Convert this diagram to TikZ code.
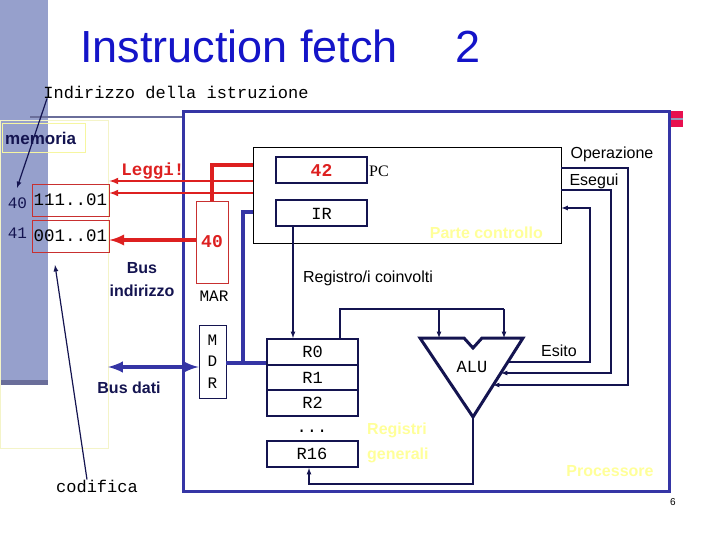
\documentclass[tikz,border=0pt]{standalone}
\usepackage{fontspec}
\setmainfont{Liberation Sans}
\setmonofont{Liberation Mono}
\newfontfamily\serifface{Liberation Serif}
\usepackage{tikz}
\usetikzlibrary{arrows}

\definecolor{navy}{HTML}{141450}
\definecolor{busblue}{HTML}{3535A5}
\definecolor{titleblue}{HTML}{1414C8}
\definecolor{barblue}{HTML}{96A0CC}
\definecolor{bardark}{HTML}{6A6E9A}
\definecolor{accred}{HTML}{DD2020}
\definecolor{cellred}{HTML}{C83030}
\definecolor{paleyel}{HTML}{FFFF99}
\definecolor{faintyel}{HTML}{F4F4C8}
\definecolor{markred}{HTML}{E8104F}

\newcommand\fsz[1]{\fontsize{#1}{#1}\selectfont}

\tikzset{
  reg/.style={draw=navy, line width=2pt, minimum width=91pt, minimum height=26pt, inner sep=0pt, font=\ttfamily\fsz{17}},
  cell/.style={draw=cellred, line width=0.8pt, minimum width=77pt, minimum height=32pt, inner sep=0pt, font=\ttfamily\fsz{17.5}},
  mono/.style={inner sep=0pt, font=\ttfamily\fsz{17}},
  lbl/.style={inner sep=0pt, font=\fsz{16}},
  tag/.style={inner sep=0pt, text=paleyel, font=\bfseries\fsz{16}},
  wire/.style={navy, line width=1.2pt},
  redline/.style={accred, line width=2pt},
  redthick/.style={accred, line width=4pt},
  busline/.style={busblue, line width=4pt}
}

\begin{document}
\begin{tikzpicture}[x=1pt,y=-1pt]
      \useasboundingbox (0,0) rectangle (720,540);
      % slide background
      \fill[barblue] (0,0) rectangle (48,385);
      \fill[bardark] (0,380) rectangle (48,385);
      \draw[bardark, line width=2pt] (30,117) -- (183,117);
      \fill[markred] (670,111) rectangle (683,127);
      \draw[bardark!70, line width=2pt] (670,119) -- (683,119);
      \node[titleblue, anchor=base west, inner sep=0pt, font=\fsz{45}] (title) at (80,63) {Instruction fetch};
      \node[titleblue, anchor=base west, inner sep=0pt, font=\fsz{45}] (titlenum) at (455,63) {2};
      \node[inner sep=0pt, font=\fsz{10}] (pagenum) at (673,502) {6};

      % memoria
      \draw[faintyel] (0,120) rectangle (108,448);
      \draw[faintyel!80!yellow] (2,123) rectangle (85,152);
      \node[navy, anchor=west, inner sep=0pt, font=\bfseries\fsz{17}] (memlbl) at (5,138) {memoria};
      \node[cell] (c40) at (70.5,200) {111..01};
      \node[cell] (c41) at (70.5,236) {001..01};
      \node[mono, navy, font=\ttfamily\fsz{16}] (a40) at (17.5,203) {40};
      \node[mono, navy, font=\ttfamily\fsz{16}] (a41) at (17.5,233) {41};
      \node[mono] (indtext) at (176,92) {Indirizzo della istruzione};
      \node[mono] (codifica) at (97,486) {codifica};
      \coordinate (addrtip) at (17,188);
      \coordinate (codtip) at (55,265);
      \draw[wire,-latex] (indtext.south -| 47,0) -- (addrtip);
      \draw[wire,-latex] (codifica.north -| 87,0) -- (codtip);

      % processore
      \draw[busblue, line width=3pt] (183,112) rectangle (669,491);
      \node[draw=black, line width=0.8pt, minimum width=308pt, minimum height=96pt, inner sep=0pt] (ctrl) at (407,195) {};
      \node[reg, font=\ttfamily\bfseries\fsz{18}, text=accred] (pc) at (321.5,170.5) {42};
      \node[reg] (ir) at (321.5,213.5) {IR};
      \node[anchor=west, inner sep=0pt, font=\serifface\fsz{16}] (pclbl) at (369,171) {PC};
      \node[tag, anchor=east] (ctrltag) at (543,233) {Parte controllo};
      \node[lbl] (oplbl) at (612,154) {Operazione};
      \node[lbl] (eslbl) at (594,181) {Esegui};

      \node[draw=cellred, line width=0.8pt, minimum width=32pt, minimum height=82pt, inner sep=0pt, text=accred, font=\ttfamily\bfseries\fsz{18}] (mar) at (212,242) {40};
      \node[mono, font=\ttfamily\fsz{16}] (marlbl) at (214,296) {MAR};
      \node[draw=navy, line width=0.8pt, minimum width=27pt, minimum height=73pt, inner sep=0pt, align=center, font=\ttfamily\fontsize{16}{21.5}\selectfont] (mdr) at (212.5,361.5) {M\\D\\R};
      \node[navy, align=center, inner sep=0pt, font=\bfseries\fontsize{16}{23}\selectfont] (busind) at (142,280) {Bus\\indirizzo};
      \node[navy, inner sep=0pt, font=\bfseries\fsz{16}] (busdati) at (129,388) {Bus dati};
      \node[redline, text=accred, inner sep=0pt, font=\ttfamily\bfseries\fsz{17.5}] (leggi) at (153,171) {Leggi!};

      % registri generali
      \node[reg] (r0) at (312.5,352) {R0};
      \node[reg, minimum height=25pt] (r1) at (312.5,377.5) {R1};
      \node[reg] (r2) at (312.5,403) {R2};
      \node[mono, anchor=base] (dots) at (312,432) {...};
      \node[reg] (r16) at (312,454) {R16};
      \node[tag, align=left, anchor=west, font=\bfseries\fontsize{16}{25}\selectfont] (regtag) at (367,443) {Registri\\generali};
      \node[lbl] (coinv) at (368,278) {Registro/i coinvolti};
      \node[lbl] (esito) at (559,351) {Esito};
      \node[tag] (proctag) at (610,471) {Processore};

      % ALU
      \draw[navy, line width=3pt, line join=miter] (420,338) -- (464,338) -- (473,348) -- (482,338) -- (523,338) -- (473,417) -- cycle;
      \node[mono] (alu) at (472,367) {ALU};
      \coordinate (aluA) at (439,338);
      \coordinate (aluB) at (504,338);
      \coordinate (aluop) at (493,385);
      \coordinate (aluex) at (501,373);
      \coordinate (aluout) at (508,362);
      \coordinate (alubot) at (473,417);

      % bus indirizzo / lettura
      \draw[redthick] (ctrl.west |- 0,165) -| (mar.north);
      \draw[redline,-latex] (ctrl.west |- 0,181) -- (c40.east |- 0,181);
      \draw[redline,-latex] (ctrl.west |- 0,193) -- (c40.east |- 0,193);
      \draw[redthick,-latex] (mar.west |- 0,240) -- (c41.east |- 0,240);

      % bus dati
      \coordinate (memedge) at (108,367);
      \draw[busline,latex-latex] (memedge) -- (mdr.west |- memedge);
      \draw[busline] (ctrl.west |- 0,212) -- (243,212) -- (243,363);
      \draw[busline] (mdr.east |- 0,363) -- (r0.west |- 0,363);

      % collegamenti
      \draw[wire,-latex] (ir.south -| 293,0) -- (r0.north -| 293,0);
      \draw[wire] (r0.north -| 340,0) -- (340,309) -- (504,309);
      \draw[wire,-latex] (439,309) -- (aluA);
      \draw[wire,-latex] (504,309) -- (aluB);
      \draw[wire,-latex] (alubot) -- (473,484) -| (r16.south -| 309,0);
      \draw[wire,-latex] (ctrl.east |- 0,168) -| (628,385) -- (aluop);
      \draw[wire,-latex] (ctrl.east |- 0,190) -| (611,373) -- (aluex);
      \draw[wire,-latex] (aluout) -- (590,362) |- (ctrl.east |- 0,208);
\end{tikzpicture}
\end{document}
